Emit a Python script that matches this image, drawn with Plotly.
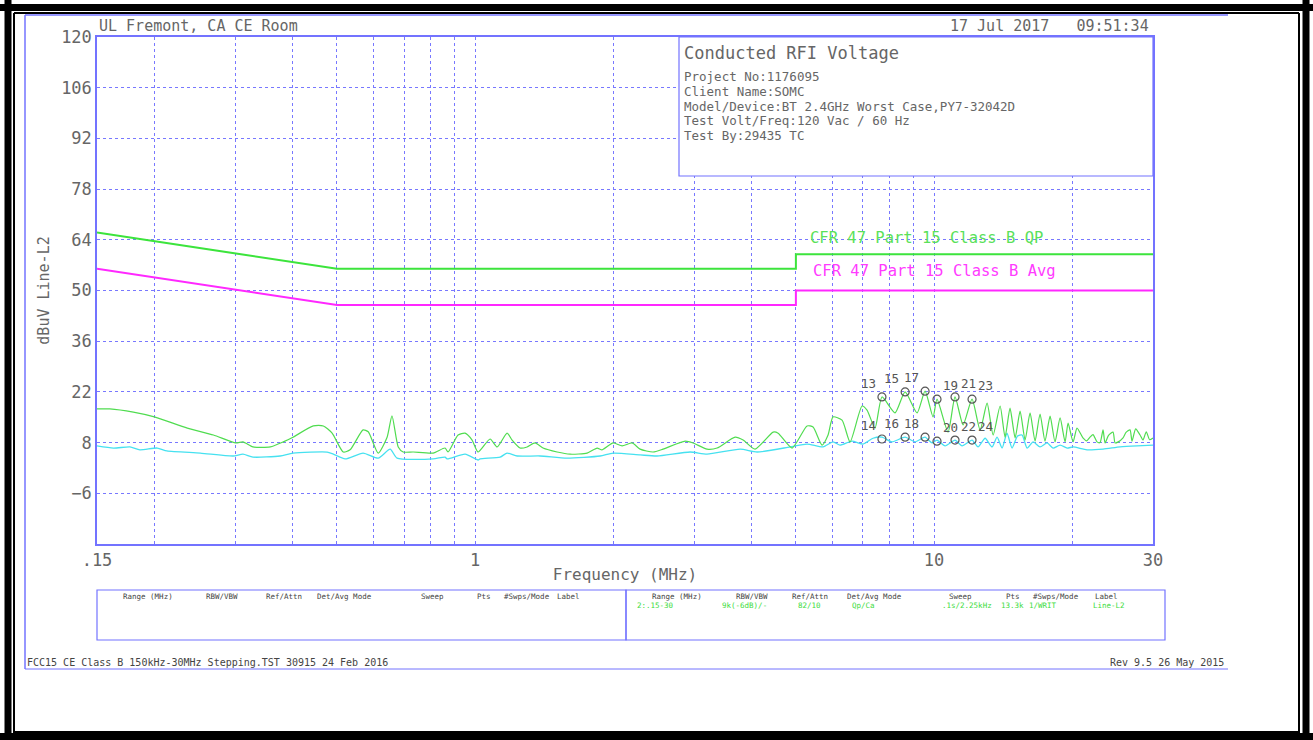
import plotly.graph_objects as go

# ---- data ----
qp_freq = [0.150, 0.160, 0.180, 0.200, 0.236, 0.269, 0.301, 0.312, 0.328, 0.358,
           0.382, 0.401, 0.444, 0.467, 0.488, 0.516, 0.534, 0.570, 0.585, 0.615,
           0.643, 0.659, 0.680, 0.697, 0.733, 0.810, 0.860, 0.873, 0.918, 0.951,
           0.985, 1.015, 1.078, 1.117, 1.174, 1.204, 1.253, 1.298, 1.351, 1.406,
           1.509, 1.611, 1.754, 1.844, 1.891, 1.998, 2.091, 2.198, 2.288, 2.442,
           2.568, 2.868, 2.985, 3.202, 3.367, 3.686, 3.837, 4.074, 4.461, 4.574,
           4.906, 5.288, 5.450, 5.702, 5.876, 6.025, 6.303, 6.561, 6.968, 7.145,
           7.437, 7.703, 8.222, 8.647, 9.183, 9.559, 9.950, 10.15, 10.73, 11.11,
           11.57, 12.10, 12.60, 13.05, 13.45, 13.93, 14.28, 14.64, 15.02, 15.40,
           15.79, 16.19, 16.60, 17.02, 17.45, 17.90, 18.35, 18.82, 19.30, 19.59,
           20.09, 20.49, 21.11, 21.50, 21.87, 22.20, 22.65, 23.00, 23.35, 23.58,
           24.00, 24.55, 24.80, 25.20, 25.81, 26.20, 26.73, 27.00, 27.50, 28.11,
           28.53, 29.00, 29.50, 30.00]
qp_level = [17.3, 17.3, 16.4, 15.1, 12.0, 10.1, 7.9, 8.2, 6.8, 6.8,
            8.2, 9.5, 12.6, 12.6, 10.6, 5.4, 6.0, 11.5, 11.0, 5.1,
            9.5, 15.4, 6.8, 5.4, 5.4, 5.1, 6.5, 5.4, 10.1, 10.6,
            8.7, 5.4, 9.0, 6.8, 10.6, 8.7, 6.5, 6.8, 7.9, 6.5,
            5.4, 4.8, 5.1, 6.5, 6.0, 7.9, 7.1, 7.9, 6.2, 5.4,
            6.2, 8.4, 7.9, 6.2, 6.5, 9.5, 8.7, 6.2, 10.9, 10.6,
            6.5, 12.6, 12.3, 7.3, 10.1, 15.1, 14.2, 8.2, 18.1, 17.0,
            12.0, 20.6, 16.2, 22.0, 16.2, 22.2, 15.1, 20.0, 10.9, 20.6,
            12.9, 20.0, 11.5, 18.9, 10.1, 18.1, 9.5, 17.5, 9.3, 16.7,
            8.7, 16.2, 8.4, 15.9, 8.4, 15.3, 8.2, 14.8, 8.2, 13.4,
            8.2, 12.0, 9.3, 8.5, 9.5, 10.2, 8.2, 8.0, 11.5, 7.9,
            10.0, 10.9, 7.9, 8.2, 9.3, 10.8, 11.5, 8.4, 11.8, 10.1,
            8.7, 11.0, 8.8, 9.3]

avg_freq = [0.150, 0.163, 0.177, 0.186, 0.203, 0.213, 0.252, 0.297, 0.312, 0.328,
            0.376, 0.401, 0.476, 0.491, 0.521, 0.570, 0.615, 0.653, 0.676, 0.810,
            0.860, 0.869, 0.951, 1.015, 1.025, 1.134, 1.174, 1.235, 1.385, 1.586,
            1.872, 1.998, 2.288, 2.492, 2.941, 3.202, 3.780, 4.116, 4.857, 5.288,
            5.731, 6.025, 6.240, 6.628, 7.003, 7.362, 7.703, 8.099, 8.647, 9.091,
            9.559, 9.899, 10.15, 10.57, 11.11, 11.51, 12.10, 12.47, 12.92, 13.38,
            13.72, 14.07, 14.42, 14.79, 15.20, 15.55, 15.95, 16.44, 17.02, 17.63,
            18.17, 18.82, 19.50, 20.09, 21.54, 23.35, 25.43, 27.69, 30.00]
avg_level = [7.1, 6.5, 6.8, 6.0, 6.5, 5.7, 5.1, 4.3, 4.8, 4.0,
             4.3, 5.1, 5.4, 4.8, 3.5, 5.1, 3.7, 6.2, 3.7, 3.5,
             4.0, 3.5, 4.8, 3.2, 3.5, 4.0, 5.1, 4.3, 4.3, 3.7,
             4.3, 5.1, 4.6, 4.3, 5.4, 4.8, 6.2, 5.4, 6.8, 7.6,
             6.8, 8.2, 7.3, 8.4, 7.6, 9.2, 9.5, 8.2, 9.5, 8.2,
             9.5, 7.9, 8.7, 7.1, 8.7, 7.1, 8.7, 6.8, 9.2, 6.8,
             9.5, 6.5, 10.6, 6.5, 9.8, 10.1, 6.5, 8.2, 6.8, 7.9,
             6.5, 7.3, 6.5, 6.8, 6.0, 6.2, 6.8, 7.1, 7.3]

qp_limit_freq = [0.15, 0.5, 5, 5, 30]
qp_limit_level = [66, 56, 56, 60, 60]
avg_limit_freq = [0.15, 0.5, 5, 5, 30]
avg_limit_level = [56, 46, 46, 50, 50]

qp_marker_ids = ["13", "15", "17", "19", "21", "23"]
qp_marker_freq = [7.70, 8.65, 9.56, 10.15, 11.11, 12.10]
qp_marker_level = [20.6, 22.0, 22.2, 20.0, 20.6, 20.0]
avg_marker_ids = ["14", "16", "18", "20", "22", "24"]
avg_marker_freq = [7.70, 8.65, 9.56, 10.15, 11.11, 12.10]
avg_marker_level = [9.0, 9.5, 9.5, 8.4, 8.7, 8.7]
label_side = ["top left", "top left", "top left", "top right", "top right", "top right"]

y_ticks = [-6, 8, 22, 36, 50, 64, 78, 92, 106, 120]
x_grid = [0.15, 0.2, 0.3, 0.4, 0.5, 0.6, 0.7, 0.8, 0.9, 1, 2, 3, 4, 5, 6, 7, 8, 9, 10, 20, 30]
x_labels = {0.15: ".15", 1: "1", 10: "10", 30: "30"}

info_lines = ["Project No:1176095", "Client Name:SOMC",
              "Model/Device:BT 2.4GHz Worst Case,PY7-32042D",
              "Test Volt/Freq:120 Vac / 60 Hz", "Test By:29435 TC"]
table_heads = ["Range (MHz)", "RBW/VBW", "Ref/Attn", "Det/Avg Mode", "Sweep", "Pts", "#Swps/Mode", "Label"]
table_vals = ["2:.15-30", "9k(-6dB)/-", "82/10", "Qp/Ca", ".1s/2.25kHz", "13.3k", "1/WRIT", "Line-L2"]

# ---- page geometry ----
W, H = 1313, 740
L, R, T, B = 97, 1153, 37, 544
MONO = "DejaVu Sans Mono"
GRAY = "#666666"
BLUE = "rgb(115,115,255)"
GRID = "rgb(120,120,255)"


def px(x):
    return (x - L) / (R - L)


def py(y):
    return (B - y) / (B - T)


fig = go.Figure()

fig.add_trace(go.Scatter(x=qp_limit_freq, y=qp_limit_level, mode="lines",
                         line=dict(color="rgb(60,228,60)", width=2)))
fig.add_trace(go.Scatter(x=avg_limit_freq, y=avg_limit_level, mode="lines",
                         line=dict(color="rgb(255,40,255)", width=2)))
fig.add_trace(go.Scatter(x=avg_freq, y=avg_level, mode="lines",
                         line=dict(color="rgb(70,225,240)", width=1.3, shape="spline", smoothing=0.6)))
fig.add_trace(go.Scatter(x=qp_freq, y=qp_level, mode="lines",
                         line=dict(color="rgb(80,220,80)", width=1.2, shape="spline", smoothing=0.6)))

for f, v, ids in [(qp_marker_freq, qp_marker_level, qp_marker_ids),
                  (avg_marker_freq, avg_marker_level, avg_marker_ids)]:
    fig.add_trace(go.Scatter(
        x=f, y=v, mode="markers+text", text=ids, textposition=label_side,
        marker=dict(symbol="circle-open", size=8, color="#555555", line=dict(width=1.2)),
        textfont=dict(family=MONO, size=12.5, color="#555555")))

ann = []


def text(x, y, s, size, color=GRAY, xanchor="left", yanchor="middle"):
    ann.append(dict(x=px(x), y=py(y), xref="paper", yref="paper", text=s, showarrow=False,
                    xanchor=xanchor, yanchor=yanchor,
                    font=dict(family=MONO, size=size, color=color)))


text(97, 26, "UL Fremont, CA CE Room", 15)
text(1151, 26, "17 Jul 2017   09:51:34", 15, xanchor="right")
text(682, 53, "Conducted RFI Voltage", 17)
for i, s in enumerate(info_lines):
    text(682, 77 + i * 14.5, s, 12.5)
text(808, 238, "CFR 47 Part 15 Class B QP", 15.5, color="rgb(90,225,90)")
text(811, 271, "CFR 47 Part 15 Class B Avg", 15.5, color="rgb(255,60,255)")

left_cols = [121, 204, 264, 315, 419, 475, 502, 555]
right_cols = [650, 734, 790, 845, 947, 1004, 1031, 1093]
val_cols = [635, 720, 796, 850, 940, 999, 1027, 1091]
for c, s in zip(left_cols, table_heads):
    text(c, 596, s, 7.5, color="#444444")
for c, s in zip(right_cols, table_heads):
    text(c, 596, s, 7.5, color="#444444")
for c, s in zip(val_cols, table_vals):
    text(c, 605, s, 7.5, color="rgb(60,220,60)")

text(25, 662, "FCC15 CE Class B 150kHz-30MHz Stepping.TST 30915 24 Feb 2016", 10, color="#444444")
text(1226, 662, "Rev 9.5 26 May 2015", 10, color="#444444", xanchor="right")

shapes = []


def rect(x0, y0, x1, y1, color, width=1, fill=None):
    shapes.append(dict(type="rect", xref="paper", yref="paper",
                       x0=px(x0), y0=py(y0), x1=px(x1), y1=py(y1),
                       line=dict(color=color, width=width), fillcolor=fill, layer="above"))


def line(x0, y0, x1, y1, color, width=1):
    shapes.append(dict(type="line", xref="paper", yref="paper",
                       x0=px(x0), y0=py(y0), x1=px(x1), y1=py(y1),
                       line=dict(color=color, width=width), layer="above"))


# info box and settings table
rect(679, 37, 1153, 176, BLUE, 1.2, fill="white")
rect(97, 590, 626, 640, BLUE, 1.2)
rect(626, 590, 1165, 640, BLUE, 1.2)
# page frame
line(25, 15, 1228, 15, BLUE, 1.5)
line(25, 15, 25, 669, BLUE, 1.5)
line(25, 669, 1228, 669, BLUE, 1)
line(0, 7.5, 1313, 7.5, "black", 7)
line(8, 0, 8, 740, "black", 7)
line(1306, 0, 1306, 740, "black", 7)
line(0, 736.5, 1313, 736.5, "black", 7)
line(14, 13, 1299, 13, "black", 2)
line(14, 13, 14, 733, "black", 2)
line(1299, 13, 1299, 733, "black", 2)
line(14, 732, 1299, 732, "black", 2)

fig.update_layout(
    width=W, height=H,
    margin=dict(l=L, r=W - R, t=T, b=H - B),
    paper_bgcolor="white", plot_bgcolor="white",
    showlegend=False,
    annotations=ann, shapes=shapes,
    xaxis=dict(
        type="log", range=[-0.8239, 1.4771],
        tickmode="array", tickvals=x_grid,
        ticktext=[x_labels.get(v, "") for v in x_grid],
        showgrid=True, gridcolor=GRID, griddash="dot", gridwidth=1,
        showline=True, linecolor=BLUE, linewidth=1.5, mirror=True,
        ticks="", zeroline=False,
        tickfont=dict(family=MONO, size=17, color=GRAY),
        title=dict(text="Frequency (MHz)", standoff=0,
                   font=dict(family=MONO, size=16, color=GRAY)),
    ),
    yaxis=dict(
        range=[-20, 120], tickmode="array", tickvals=y_ticks,
        showgrid=True, gridcolor=GRID, griddash="dot", gridwidth=1,
        showline=True, linecolor=BLUE, linewidth=1.5, mirror=True,
        ticks="", zeroline=False,
        tickfont=dict(family=MONO, size=17, color=GRAY),
        title=dict(text="dBuV Line-L2", standoff=8,
                   font=dict(family=MONO, size=15, color=GRAY)),
    ),
)

fig.write_html("out.html", config={"displayModeBar": False},
               post_script="document.body.style.margin='0';")
